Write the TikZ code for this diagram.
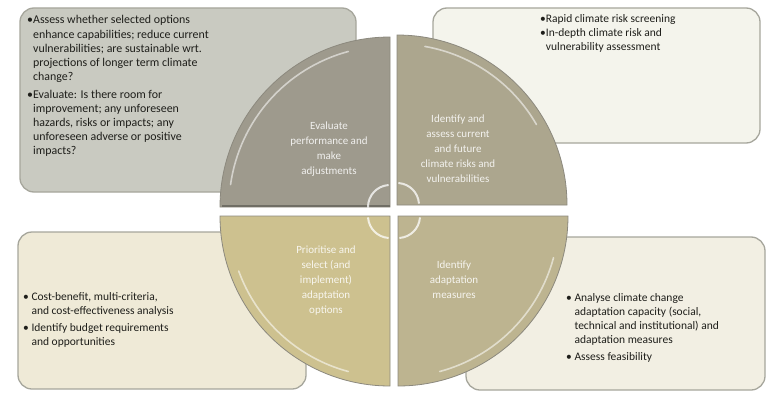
\documentclass[tikz,border=0pt]{standalone}
\usepackage{fontspec}
\usetikzlibrary{calc}
\setmainfont{Carlito}
\definecolor{boxTL}{HTML}{C9CAC1}
\definecolor{boxTR}{HTML}{F4F4EC}
\definecolor{boxBL}{HTML}{EFEAD7}
\definecolor{boxBR}{HTML}{F2EFE3}
\definecolor{boxline}{HTML}{A6A69C}
\definecolor{qTL}{HTML}{9E9A8D}
\definecolor{qTR}{HTML}{ACA68E}
\definecolor{qBL}{HTML}{CDC18F}
\definecolor{qBR}{HTML}{BDB490}
\definecolor{qedge}{HTML}{8C897E}
\definecolor{txt}{HTML}{1E1E1A}
\tikzset{
  infobox/.style={draw=boxline, line width=1.3pt, rounded corners=14pt},
  boxtext/.style={anchor=base west, inner sep=0pt, text=txt, font=\fontsize{11.5}{14.2}\selectfont},
  quadtext/.style={align=center, inner sep=0pt, text=white, text opacity=0.85, font=\fontsize{11}{15}\selectfont},
  quad/.style={draw=qedge, line width=0.8pt},
  shine/.style={white, opacity=0.55, line width=1.6pt, line cap=round},
  cyc/.style={white, opacity=0.75, line width=2pt, line cap=round}
}
\begin{document}
\begin{tikzpicture}[x=1pt,y=1pt]
\useasboundingbox (0,0) rectangle (768,392);
\fill[white] (0,0) rectangle (768,392);
% boxes
\filldraw[infobox, fill=boxTL] (20,384) rectangle (356,200);
\filldraw[infobox, fill=boxTR] (433,384) rectangle (760,249);
\filldraw[infobox, fill=boxBL] (18,160) rectangle (306,3);
\filldraw[infobox, fill=boxBR] (466,155) rectangle (765,2);
% box texts
\node[boxtext, font=\fontsize{11.9}{14.1}\selectfont] (tTL) at (27,368) {\begin{tabular}[t]{@{}l@{}l@{}}
•&Assess whether selected options\\
&enhance capabilities; reduce current\\
&vulnerabilities; are sustainable wrt.\\
&projections of longer term climate\\
&change?\\[4pt]
•&Evaluate: Is there room for\\
&improvement; any unforeseen\\
&hazards, risks or impacts; any\\
&unforeseen adverse or positive\\
&impacts?
\end{tabular}};
\node[boxtext] (tTR) at (540,370) {\begin{tabular}[t]{@{}l@{}l@{}}
•&Rapid climate risk screening\\
•&In-depth climate risk and\\
&vulnerability assessment
\end{tabular}};
\node[boxtext] (tBL) at (23,92) {\begin{tabular}[t]{@{}l@{\ }l@{}}
•&Cost-benefit, multi-criteria,\\
&and cost-effectiveness analysis\\[3pt]
•&Identify budget requirements\\
&and opportunities
\end{tabular}};
\node[boxtext] (tBR) at (566,91) {\begin{tabular}[t]{@{}l@{\ }l@{}}
•&Analyse climate change\\
&adaptation capacity (social,\\
&technical and institutional) and\\
&adaptation measures\\[3pt]
•&Assess feasibility
\end{tabular}};
% quadrants
\coordinate (cTL) at (390,185);
\coordinate (cTR) at (397,187);
\coordinate (cBL) at (390,176);
\coordinate (cBR) at (398,176);
\filldraw[quad, fill=qTL] (cTL) -- ++(180:170) arc (180:90:170) -- cycle;
\filldraw[quad, fill=qTR] (cTR) -- ++(90:170) arc (90:0:170) -- cycle;
\filldraw[quad, fill=qBL] (cBL) -- ++(270:170) arc (270:180:170) -- cycle;
\filldraw[quad, fill=qBR] (cBR) -- ++(0:170) arc (0:-90:170) -- cycle;
% dark lower rims of upper quadrants
\draw[qedge!80!black, line width=2pt] ($(cTL)+(-168,1)$) -- ($(cTL)+(0,1)$);
% shine arcs
\draw[shine] (cTL) ++(172:161) arc (172:105:161);
\draw[shine] (cTR) ++(80:161) arc (80:30:161);
\draw[shine] (cBL) ++(255:161) arc (255:200:161);
\draw[shine] (cBR) ++(-15:161) arc (-15:-75:161);
% central cycle arcs
\draw[cyc] (cTL) ++(180:22) arc (180:95:22);
\draw[cyc] (cTR) ++(85:22) arc (85:5:22);
\draw[cyc] (cBR) ++(-5:22) arc (-5:-85:22);
\draw[cyc] (cBL) ++(-95:22) arc (-95:-175:22);
% quadrant texts
\node[quadtext] (qtTL) at (329,243) {Evaluate\\performance and\\make\\adjustments};
\node[quadtext] (qtTR) at (458,243) {Identify and\\assess current\\and future\\climate risks and\\vulnerabilities};
\node[quadtext] (qtBL) at (326,111) {Prioritise and\\select (and\\implement)\\adaptation\\options};
\node[quadtext] (qtBR) at (454,112) {Identify\\adaptation\\measures};
\end{tikzpicture}
\end{document}
